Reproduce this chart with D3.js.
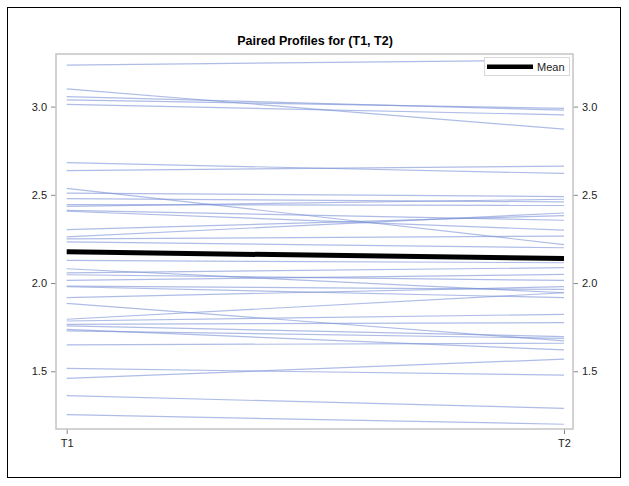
<!DOCTYPE html>
<html>
<head>
<meta charset="utf-8">
<script src="https://cdn.jsdelivr.net/npm/d3@7"></script>
<style>
  body { margin: 0; background: #fff; }
  svg { font-family: "Liberation Sans", Arial, sans-serif; }
</style>
</head>
<body>
<svg id="chart" width="629" height="486"></svg>
<script>
// paired values, one entry per subject
const times = ["T1", "T2"];
const t1Values = [3.235, 3.10, 3.057, 3.038, 3.013, 2.682, 2.637, 2.537, 2.51, 2.478,
  2.444, 2.435, 2.412, 2.407, 2.303, 2.262, 2.25, 2.233, 2.128, 2.081,
  2.058, 2.047, 2.015, 1.983, 1.979, 1.917, 1.885, 1.795, 1.785, 1.766,
  1.757, 1.738, 1.729, 1.65, 1.516, 1.46, 1.362, 1.254];
const t2Values = [3.264, 2.872, 2.98, 2.99, 2.953, 2.621, 2.663, 2.218, 2.49, 2.46,
  2.44, 2.475, 2.356, 2.30, 2.382, 2.397, 2.266, 2.20, 2.115, 1.945,
  2.087, 2.015, 2.049, 1.964, 1.917, 1.98, 1.672, 1.945, 1.823, 1.776,
  1.697, 1.621, 1.687, 1.659, 1.478, 1.569, 1.29, 1.2];
const meanValues = [2.177, 2.139];
const yTicks = [1.5, 2.0, 2.5, 3.0];

const svg = d3.select("#chart");
const frame = { left: 56, right: 573, top: 54, bottom: 429 };

// outer border
svg.append("rect")
  .attr("x", 7.5).attr("y", 7.5)
  .attr("width", 613).attr("height", 470)
  .attr("fill", "none").attr("stroke", "#000").attr("stroke-width", 1);

svg.append("text")
  .attr("x", 315).attr("y", 45)
  .attr("text-anchor", "middle")
  .attr("font-size", "12.5px").attr("font-weight", "bold")
  .text("Paired Profiles for (T1, T2)");

const x = d3.scalePoint().domain(times).range([66.7, 564]);
const y = d3.scaleLinear()
  .domain([1.173, 3.298])
  .range([frame.bottom, frame.top]);

const pairs = t1Values.map((v, i) => [v, t2Values[i]]);
const line = d3.line()
  .x((d, i) => x(times[i]))
  .y((d) => y(d));

const plot = svg.append("g");

plot.selectAll("path.profile")
  .data(pairs)
  .enter()
  .append("path")
  .attr("class", "profile")
  .attr("d", line)
  .attr("fill", "none")
  .attr("stroke", "#7890d6")
  .attr("stroke-opacity", 0.6)
  .attr("stroke-width", 1.2);

plot.append("path")
  .attr("d", line(meanValues))
  .attr("fill", "none")
  .attr("stroke", "#000")
  .attr("stroke-width", 5);

// axes
const axisStyle = (g) => {
  g.select(".domain").remove();
  g.selectAll(".tick line").attr("stroke", "#888");
  g.selectAll(".tick text").attr("fill", "#222").attr("font-size", "11px");
};

svg.append("g")
  .attr("transform", `translate(${frame.left},0)`)
  .call(d3.axisLeft(y).tickValues(yTicks).tickFormat(d3.format(".1f")).tickSize(5).tickPadding(4))
  .call(axisStyle);

svg.append("g")
  .attr("transform", `translate(${frame.right},0)`)
  .call(d3.axisRight(y).tickValues(yTicks).tickFormat(d3.format(".1f")).tickSize(5).tickPadding(4))
  .call(axisStyle);

svg.append("g")
  .attr("transform", `translate(0,${frame.bottom})`)
  .call(d3.axisBottom(x).tickSize(5).tickPadding(5))
  .call(axisStyle);

// plot frame
svg.append("rect")
  .attr("x", frame.left).attr("y", frame.top)
  .attr("width", frame.right - frame.left)
  .attr("height", frame.bottom - frame.top)
  .attr("fill", "none").attr("stroke", "#c4c4c4").attr("stroke-width", 1.5);

// legend
const legend = svg.append("g");
legend.append("rect")
  .attr("x", 484.5).attr("y", 57.5).attr("width", 85).attr("height", 18)
  .attr("fill", "#fff").attr("stroke", "#d8d8d8");
legend.append("line")
  .attr("x1", 487).attr("x2", 533).attr("y1", 66.7).attr("y2", 66.7)
  .attr("stroke", "#000").attr("stroke-width", 4.5);
legend.append("text")
  .attr("x", 537).attr("y", 70.5)
  .attr("font-size", "11px").attr("fill", "#222")
  .text("Mean");
</script>
</body>
</html>
